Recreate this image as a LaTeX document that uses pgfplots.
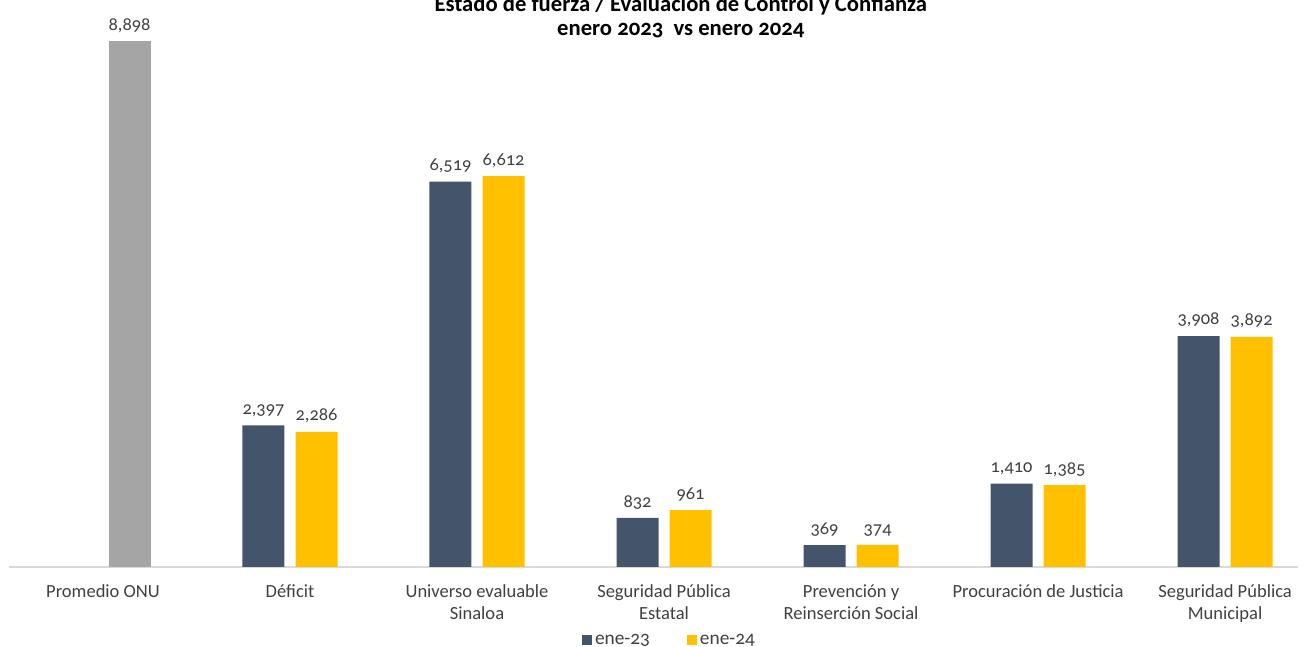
\documentclass[border=0pt]{standalone}
\usepackage{pgfplots}
\pgfplotsset{compat=1.18}
\usepackage{fontspec}
\setmainfont{Carlito}[Numbers=OldStyle]
\definecolor{cdark}{HTML}{44546A}
\definecolor{cyel}{HTML}{FFC000}
\definecolor{cgrey}{HTML}{A5A5A5}
\definecolor{ctxt}{HTML}{404040}
\begin{document}
\begin{tikzpicture}
\begin{axis}[
  scale only axis,
  width=966.4pt, height=425.25pt,
  xmin=-0.5, xmax=6.39, ymin=0, ymax=9593,
  axis x line=bottom, axis y line=none,
  x axis line style={draw=black!15, line width=1.2pt, -},
  ytick=\empty,
  xtick={0,1,2,3,4,5,6},
  major tick length=0pt,
  xticklabels={Promedio ONU, Déficit, Universo evaluable\\Sinaloa, Seguridad Pública\\Estatal, Prevención y\\Reinserción Social, Procuración de Justicia, Seguridad Pública\\Municipal},
  xticklabel style={align=center, font=\fontsize{13.9pt}{16.5pt}\selectfont, text=ctxt, yshift=-9.5pt},
  ybar, bar width=31.5pt,
  /pgf/number format/assume math mode=true,
  /pgf/number format/.cd, 1000 sep={,}, /pgfplots/.cd,
  nodes near coords,
  every node near coord/.append style={font=\fontsize{13.8pt}{15pt}\selectfont, text=ctxt, yshift=3pt},
  legend style={at={(0.5126,0)}, anchor=center, yshift=-55pt, draw=none, fill=none, legend columns=2,
    font=\fontsize{14.5pt}{15pt}\selectfont, text=ctxt,
    /tikz/every even column/.append style={column sep=26pt}},
  legend image code/.code={\fill[#1] (-3.5pt,-3.5pt) rectangle (4pt,4pt);},
  clip=false,
]
\addplot[fill=cdark, draw=none, bar shift=-19.9pt] coordinates {(1,2397) (2,6519) (3,832) (4,369) (5,1410) (6,3908)};
\addlegendentry{ene-23}
\addplot[fill=cyel, draw=none, bar shift=19.9pt] coordinates {(1,2286) (2,6612) (3,961) (4,374) (5,1385) (6,3892)};
\addlegendentry{ene-24}
\addplot[fill=cgrey, draw=none, bar shift=19.9pt, forget plot] coordinates {(0,8898)};
\node[font=\bfseries\fontsize{17pt}{20pt}\selectfont, text=black, align=center, anchor=center] at ([yshift=-23.25pt]rel axis cs:0.521,1) {enero 2023\ \ vs enero 2024};
\node[font=\bfseries\fontsize{17pt}{20pt}\selectfont, text=black, align=center, anchor=center] at ([yshift=-3.75pt]rel axis cs:0.521,1) {Estado de fuerza / Evaluación de Control y Confianza};
\end{axis}
\pgfresetboundingbox
\useasboundingbox ([xshift=-7.125pt, yshift=-60pt]current axis.south west) rectangle ([xshift=6pt]current axis.north east);
\end{tikzpicture}
\end{document}
